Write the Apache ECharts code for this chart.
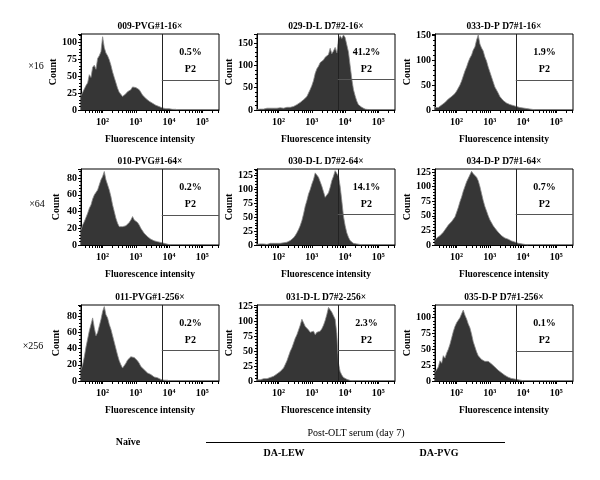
<!DOCTYPE html>
<html><head><meta charset="utf-8">
<script src="https://cdn.jsdelivr.net/npm/echarts@6/dist/echarts.min.js"></script>
<style>html,body{margin:0;padding:0;background:#fff}#c{width:600px;height:480px}</style>
</head><body><div id="c"></div>
<script>
// ---- data ----
const binExp = [1.35,1.40,1.45,1.50,1.55,1.60,1.65,1.70,1.75,1.80,
  1.85,1.90,1.95,2.00,2.05,2.10,2.15,2.20,2.25,2.30,
  2.35,2.40,2.45,2.50,2.55,2.60,2.65,2.70,2.75,2.80,
  2.85,2.90,2.95,3.00,3.05,3.10,3.15,3.20,3.25,3.30,
  3.35,3.40,3.45,3.50,3.55,3.60,3.65,3.70,3.75,3.80,
  3.85,3.90,3.95,4.00,4.05,4.10,4.15,4.20,4.25,4.30,
  4.35,4.40,4.45,4.50,4.55,4.60,4.65,4.70,4.75,4.80];

const panelTitles = ['009-PVG#1-16×','029-D-L D7#2-16×','033-D-P D7#1-16×',
  '010-PVG#1-64×','030-D-L D7#2-64×','034-D-P D7#1-64×',
  '011-PVG#1-256×','031-D-L D7#2-256×','035-D-P D7#1-256×'];

const counts1 = [21,26,24,36,40,52,48,63,66,60, 76,80,86,108,92,84,80,74,66,56, 48,40,32,26,24,20,21,24,27,29, 30,34,36,33,35,30,26,22,20,17, 15,13,11,10,8,7,6,5,4,3, 3,2,2,2,1,1,1,1,0];
const counts2 = [1,2,2,3,2,3,4,3,4,3, 4,5,4,4,5,5,4,5,6,5, 6,7,8,10,12,14,17,20,23,25, 30,38,46,55,66,82,92,98,106,102, 112,118,115,124,138,126,132,140,128,158, 166,160,168,162,158,130,100,70,46,32, 20,12,8,6,4,2,2,1,1,0];
const counts3 = [5,6,5,8,10,12,15,19,22,24, 27,30,33,38,42,50,58,68,78,86, 96,104,110,120,126,140,150,132,124,118, 106,98,86,76,66,56,46,40,34,27, 23,19,17,14,13,11,10,9,8,7, 6,5,5,4,3,3,2,2,1,1, 0];
const counts4 = [18,24,28,33,38,44,48,55,60,63, 66,72,78,82,88,78,72,66,58,48, 40,32,26,22,20,22,20,23,25,27, 30,34,30,32,27,24,20,17,14,12, 10,9,7,6,5,4,4,3,3,2, 2,1,1,1,0];
const counts5 = [1,1,2,1,2,2,1,2,3,2, 3,2,3,4,3,4,4,5,5,6, 8,10,13,17,22,28,35,44,56,70, 80,92,100,110,118,130,126,122,114,106, 96,86,84,94,104,116,124,134,132,124, 106,80,52,35,22,14,8,5,3,2, 2,1,1,0];
const counts6 = [8,12,10,16,18,22,26,30,34,36, 40,44,48,56,64,74,82,92,100,108, 114,120,126,122,120,116,110,100,88,76, 66,58,50,43,38,33,29,26,22,19, 16,14,12,11,10,9,7,6,5,4, 3,3,2,2,1,1,0];
const counts7 = [14,20,30,42,52,62,70,78,66,56, 60,68,76,86,92,82,78,70,64,56, 48,40,32,25,20,16,18,22,26,28, 30,31,29,28,25,22,18,16,14,12, 10,9,8,6,5,4,4,3,2,2, 1,1,1,0];
const counts8 = [2,3,2,3,4,3,4,5,6,5, 8,10,12,14,16,18,22,28,34,42, 50,56,64,72,78,86,94,104,98,92, 90,86,82,80,84,78,82,80,84,88, 94,102,112,124,120,116,110,104,80,30, 16,10,6,4,3,2,1,1,0];
const counts9 = [14,18,22,32,28,40,36,44,50,58, 68,78,86,92,96,100,106,112,104,98, 90,84,74,62,54,46,40,37,34,32, 31,32,31,30,27,25,22,19,17,15, 13,11,9,8,6,5,4,3,3,2, 2,1,1,0];
const allCounts = [counts1,counts2,counts3,counts4,counts5,counts6,counts7,counts8,counts9];

const yMax  = [112,170,152,91,137,130,94,128,120];
const yStep = [25,50,50,20,25,25,20,25,25];
const gateExp = [3.78,3.78,3.78,3.78,3.78,3.78,3.78,3.78,3.78];
const gateCount = [44,68,60,36,55,53,38,52,47];
const gatePct = ['0.5%','41.2%','1.9%','0.2%','14.1%','0.7%','0.2%','2.3%','0.1%'];
const gateName = 'P2';

const xMin = 1.35, xMax = 5.5;
const xTickExp = [2,3,4,5];
const xTickLabels = ['10²','10³','10⁴','10⁵'];
const minorTickVals = [30,40,50,60,70,80,90,200,300,400,500,600,700,800,900,
  2000,3000,4000,5000,6000,7000,8000,9000,20000,30000,40000,50000,60000,70000,80000,90000,200000,300000];
const rowLabels = ['×16','×64','×256'];
const xName = 'Fluorescence intensity';
const yName = 'Count';
const groupNaive = 'Naïve';
const groupPost = 'Post-OLT serum (day 7)';
const groupLEW = 'DA-LEW';
const groupPVG = 'DA-PVG';

// ---- layout ----
const FONT = '"Liberation Serif","Times New Roman",serif';
const colLeft = [81, 257, 435];
const rowTop = [34, 169, 305];
const panelW = 138, panelH = 76;
const allTickExp = xTickExp.concat(minorTickVals.map(v => Math.log10(v)));

const chart = echarts.init(document.getElementById('c'), null, {renderer:'canvas', width:600, height:480});
const grids = [], xAxes = [], yAxes = [], series = [], titles = [];
allCounts.forEach((cnt, i) => {
  const r = Math.floor(i / 3), c = i % 3;
  grids.push({left: colLeft[c], top: rowTop[r], width: panelW, height: panelH,
    show: true, borderColor: '#000', borderWidth: 1, backgroundColor: 'transparent'});
  xAxes.push({gridIndex: i, type: 'value', min: xMin, max: xMax, position: 'bottom',
    axisLine: {show: true, onZero: false, lineStyle: {color: '#000', width: 1}},
    axisTick: {show: true, customValues: allTickExp, length: 3, lineStyle: {color: '#000', width: 1}},
    axisLabel: {customValues: xTickExp, formatter: v => xTickLabels[xTickExp.indexOf(Math.round(v))],
      margin: 7, fontSize: 10, fontWeight: 'bold', fontFamily: FONT, color: '#000'},
    splitLine: {show: false},
    name: xName, nameLocation: 'middle', nameGap: 25,
    nameTextStyle: {fontSize: 9.5, fontWeight: 'bold', fontFamily: FONT, color: '#000'}});
  yAxes.push({gridIndex: i, type: 'value', min: 0, max: yMax[i], interval: yStep[i],
    axisLine: {show: true, onZero: false, lineStyle: {color: '#000', width: 1}},
    axisTick: {show: true, length: 3, lineStyle: {color: '#000'}},
    minorTick: {show: true, splitNumber: 5, length: 2, lineStyle: {color: '#000'}},
    axisLabel: {showMaxLabel: false, margin: 4, fontSize: 10, fontWeight: 'bold', fontFamily: FONT, color: '#000'},
    splitLine: {show: false},
    name: yName, nameLocation: 'middle', nameGap: 20, nameRotate: 90,
    nameTextStyle: {fontSize: 10, fontWeight: 'bold', fontFamily: FONT, color: '#000'}});
  series.push({type: 'line', xAxisIndex: i, yAxisIndex: i, symbol: 'none', silent: true,
    data: cnt.map((v, k) => [binExp[k], v]),
    lineStyle: {color: '#8c8c8c', width: 0.8},
    areaStyle: {color: '#363636', opacity: 1},
    markLine: {symbol: 'none', silent: true, label: {show: false},
      data: [
        [{coord: [gateExp[i], 0], lineStyle: {color: '#222', width: 1, type: 'solid'}},
         {coord: [gateExp[i], yMax[i]]}],
        [{coord: [gateExp[i], gateCount[i]], lineStyle: {color: '#555', width: 1, type: 'solid'}},
         {coord: [xMax, gateCount[i]]}]
      ]},
    markArea: {silent: true, itemStyle: {color: 'rgba(0,0,0,0)'},
      label: {show: true, position: 'inside', offset: [0, 4], formatter: gatePct[i] + '\n' + gateName,
        fontSize: 10, fontWeight: 'bold', lineHeight: 17, fontFamily: FONT, color: '#000'},
      data: [[{coord: [gateExp[i], gateCount[i]]}, {coord: [xMax, yMax[i]]}]]}
  });
  titles.push({text: panelTitles[i], left: colLeft[c] + panelW / 2, top: rowTop[r] - 12, textAlign: 'center',
    padding: 0,
    textStyle: {fontSize: 9.5, fontWeight: 'bold', fontFamily: FONT, color: '#000'}});
});

const txt = (t, x, y, w) => ({type: 'text', x: x, y: y,
  style: {text: t, textAlign: 'center', textVerticalAlign: 'middle', fontSize: 10, fontWeight: w || 'normal', fontFamily: FONT, fill: '#000'}});

chart.setOption({
  animation: false,
  backgroundColor: '#fff',
  title: titles,
  grid: grids, xAxis: xAxes, yAxis: yAxes, series: series,
  graphic: [
    txt(rowLabels[0], 36, 66), txt(rowLabels[1], 37, 204), txt(rowLabels[2], 33, 346),
    txt(groupNaive, 128, 442, 'bold'), txt(groupPost, 356, 433),
    {type: 'line', shape: {x1: 206, y1: 442.5, x2: 505, y2: 442.5}, style: {stroke: '#000', lineWidth: 1.2}},
    txt(groupLEW, 284, 453, 'bold'), txt(groupPVG, 439, 453, 'bold')
  ]
});
</script>
</body></html>
